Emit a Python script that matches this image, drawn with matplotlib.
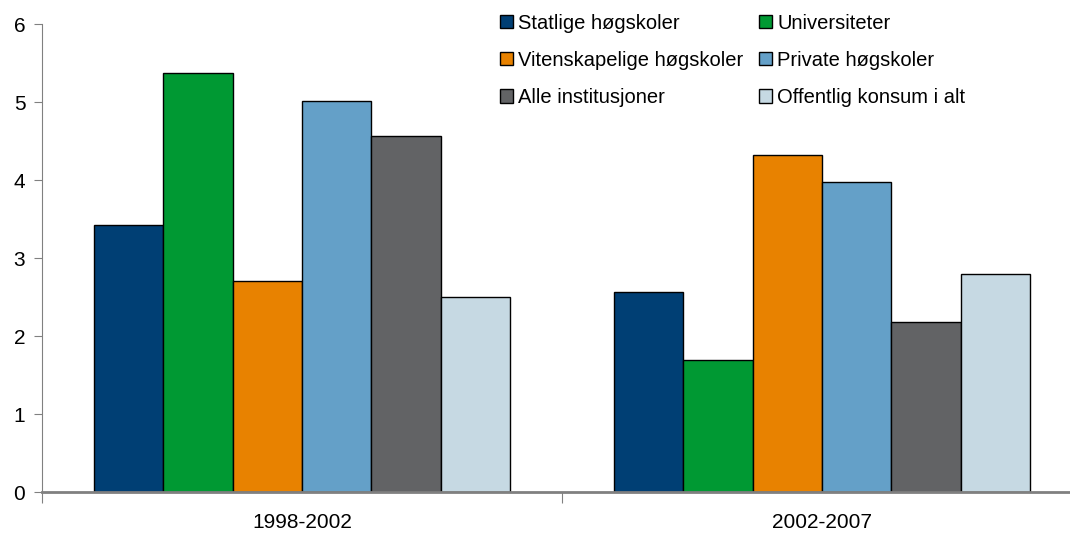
import numpy as np
import matplotlib.pyplot as plt

plt.rcParams['font.family'] = ['Liberation Sans', 'DejaVu Sans']

periods = ['1998-2002', '2002-2007']
series = ['Statlige høgskoler', 'Universiteter', 'Vitenskapelige høgskoler',
          'Private høgskoler', 'Alle institusjoner', 'Offentlig konsum i alt']
values = [
    [3.42, 2.57],
    [5.37, 1.69],
    [2.70, 4.32],
    [5.01, 3.97],
    [4.56, 2.18],
    [2.50, 2.79],
]
colors = ['#003F74', '#009933', '#E88200', '#64A0C8', '#626365', '#C6D9E3']

fig = plt.figure(figsize=(10.7, 5.35), dpi=100)
ax = fig.add_axes([42 / 1070, 43 / 535, 1040 / 1070, 468 / 535])

x = np.arange(len(periods))
w = 0.8 / len(series)
bars = []
for i, (name, vals) in enumerate(zip(series, values)):
    b = ax.bar(x - 0.4 + w * (i + 0.5), vals, w, color=colors[i], edgecolor='black',
               linewidth=1, label=name)
    bars.append(b)

ax.set_xlim(-0.5, 1.5)
ax.set_ylim(0, 6)
ax.set_yticks(range(7))
ax.set_xticks([-0.5, 0.5, 1.5])
ax.set_xticklabels([])
ax.set_xticks(x, minor=True)
ax.set_xticklabels(periods, minor=True)
ax.tick_params(axis='x', which='minor', length=0, pad=15, labelsize=15)
ax.tick_params(axis='x', which='major', length=8, direction='out', color='#808080')
ax.tick_params(axis='y', length=6, direction='out', color='#808080', labelsize=15, pad=6)

for s in ['top', 'right']:
    ax.spines[s].set_visible(False)
ax.spines['left'].set_color('#808080')
ax.spines['bottom'].set_color('#808080')
ax.spines['bottom'].set_linewidth(2)

# row-major order in a 2-column legend
order = [0, 2, 4, 1, 3, 5]
leg = ax.legend([bars[i] for i in order], [series[i] for i in order],
                ncol=2, loc='upper left', bbox_to_anchor=(0.440, 1.022),
                frameon=False, fontsize=14.5, handlelength=0.65, handleheight=0.65,
                handletextpad=0.25, columnspacing=0.8, labelspacing=0.9,
                borderpad=0, borderaxespad=0)

fig.savefig('out.png', dpi=100)
